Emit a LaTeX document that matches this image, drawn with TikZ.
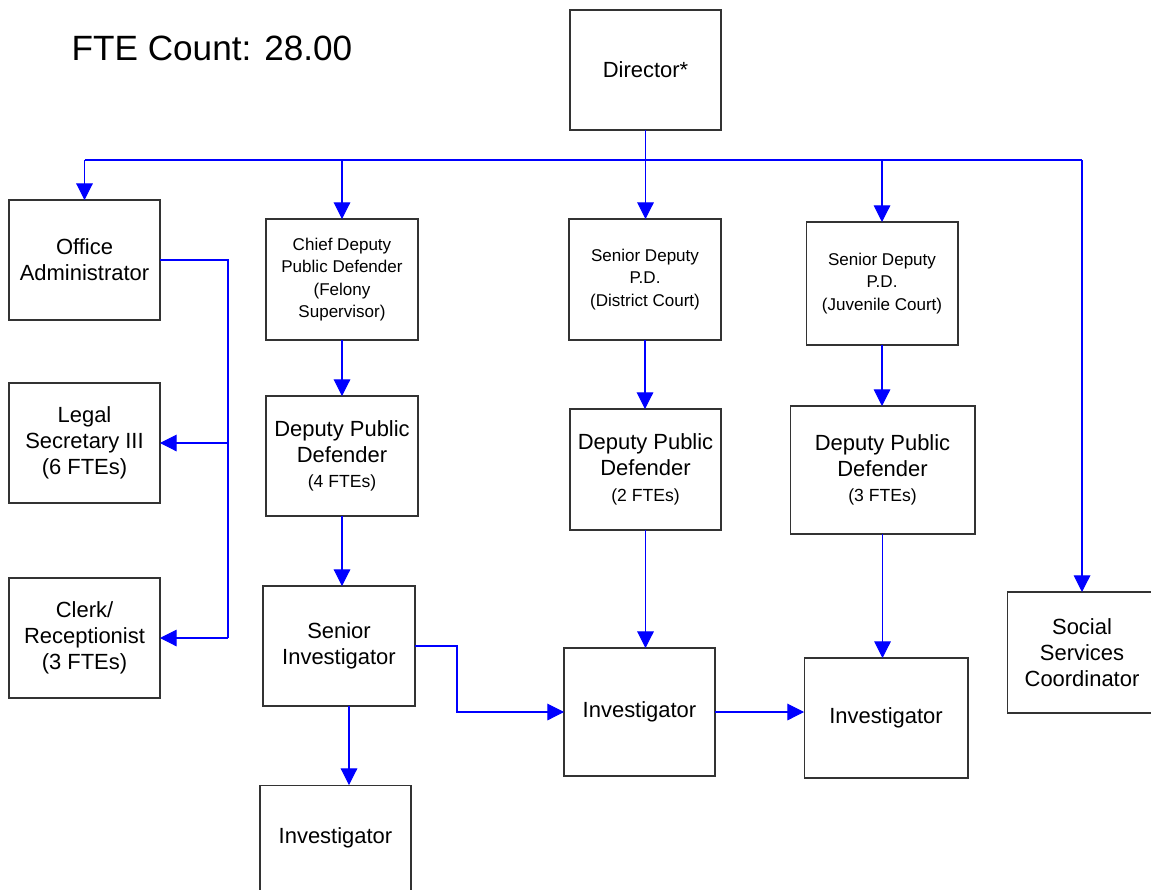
\documentclass[tikz,border=0pt]{standalone}
\usepackage{fontspec}
\setmainfont{Liberation Sans}
\usetikzlibrary{arrows.meta}

\begin{document}
\begin{tikzpicture}[x=0.02cm, y=-0.02cm,
    box/.style={draw=black!80, line width=0.6pt, outer sep=0pt, inner sep=0pt, align=center,
        font=\fontsize{12.5}{14.7}\selectfont},
    smallbox/.style={box, font=\fontsize{9.7}{12.8}\selectfont},
    wire/.style={draw=blue, line width=0.6pt},
    link/.style={wire, -{Triangle[length=9.5pt, width=9.5pt]}}]
    \useasboundingbox (0,0) rectangle (1151,889);
    \clip (0,0) rectangle (1151,889);

    \node[font=\fontsize{20}{24}\selectfont] (fte) at (212,48) {FTE Count: 28.00};

    % Top
    \node[box, minimum width=3.02cm, minimum height=2.4cm] (dir) at (645.5,70) {Director*};

    % Left column - office staff
    \node[box, minimum width=3.02cm, minimum height=2.4cm] (offadm) at (84.5,260) {Office\\Administrator};
    \node[box, minimum width=3.02cm, minimum height=2.4cm] (legsec) at (84.5,443) {Legal\\Secretary III\\(6 FTEs)};
    \node[box, minimum width=3.02cm, minimum height=2.4cm] (clerk) at (84.5,638) {Clerk/\\Receptionist\\(3 FTEs)};

    % Felony column
    \node[smallbox, minimum width=3.04cm, minimum height=2.42cm] (chief) at (342,279.5) {Chief Deputy\\Public Defender\\(Felony\\Supervisor)};
    \node[box, minimum width=3.04cm, minimum height=2.4cm] (dpd4) at (342,456) {Deputy Public\\Defender\\{\fontsize{10}{12}\selectfont (4 FTEs)}};
    \node[box, minimum width=3.04cm, minimum height=2.4cm] (seninv) at (339,646) {Senior\\Investigator};
    \node[box, minimum width=3.02cm, minimum height=2.4cm, text depth=11pt] (inv1) at (335.5,845) {Investigator};

    % District court column
    \node[smallbox, minimum width=3.04cm, minimum height=2.42cm] (sdpdc) at (645,279.5) {Senior Deputy\\P.D.\\(District Court)};
    \node[box, minimum width=3.02cm, minimum height=2.42cm] (dpd2) at (645.5,469.5) {Deputy Public\\Defender\\{\fontsize{10}{12}\selectfont (2 FTEs)}};
    \node[box, minimum width=3.02cm, minimum height=2.56cm] (inv2) at (639.5,712) {Investigator};

    % Juvenile court column
    \node[smallbox, minimum width=3.04cm, minimum height=2.46cm] (sdjuv) at (882,283.5) {Senior Deputy\\P.D.\\(Juvenile Court)};
    \node[box, minimum width=3.7cm, minimum height=2.56cm] (dpd3) at (882.5,470) {Deputy Public\\Defender\\{\fontsize{10}{12}\selectfont (3 FTEs)}};
    \node[box, minimum width=3.28cm, minimum height=2.4cm] (inv3) at (886,718) {Investigator};

    % Right
    \node[box, minimum width=3.0cm, minimum height=2.42cm] (social) at (1082,652.5) {Social\\Services\\Coordinator};

    % Director bus
    \coordinate (busL) at (84.5,160);
    \coordinate (busR) at (1082,160);
    \draw[wire] (busL) -- (busR);
    \draw[link] (dir.south) -- (dir.south |- sdpdc.north);
    \draw[link] (busL) -- (offadm.north);
    \draw[link] (chief.north |- busL) -- (chief.north);
    \draw[link] (sdjuv.north |- busL) -- (sdjuv.north);
    \draw[link] (busR) -- (social.north);

    % Office administrator
    \coordinate (spine) at (228,260);
    \draw[wire] (offadm.east) -- (spine) -- (spine |- clerk.east);
    \draw[link] (spine |- legsec.east) -- (legsec.east);
    \draw[link] (spine |- clerk.east) -- (clerk.east);

    % Down the columns
    \draw[link] (chief.south) -- (dpd4.north);
    \draw[link] (dpd4.south) -- (dpd4.south |- seninv.north);
    \draw[link] ([xshift=0.2cm]seninv.south) -- ([xshift=0.2cm]seninv.south |- inv1.north);
    \draw[link] (sdpdc.south) -- (sdpdc.south |- dpd2.north);
    \draw[link] (dpd2.south) -- (dpd2.south |- inv2.north);
    \draw[link] (sdjuv.south) -- (sdjuv.south |- dpd3.north);
    \draw[link] (dpd3.south) -- (dpd3.south |- inv3.north);

    % Across to the investigators
    \draw[link] (seninv.east) -- ++(42,0) |- (inv2.west);
    \draw[link] (inv2.east) -- (inv2.east -| inv3.west);
\end{tikzpicture}
\end{document}
